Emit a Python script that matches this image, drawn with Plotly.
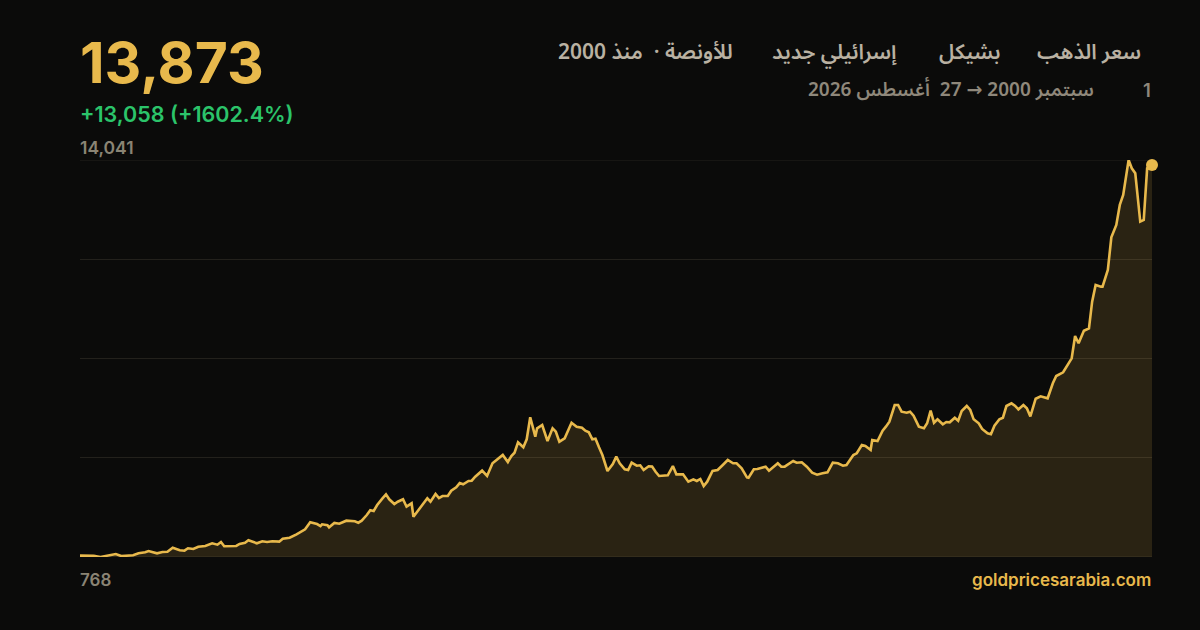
import plotly.graph_objects as go

dates = [
"2000-09-01","2001-01-01","2001-03-01","2001-05-15","2001-07-15","2001-09-01","2001-12-15","2002-02-01","2002-04-01","2002-05-01",
"2002-07-15","2002-09-01","2002-10-15","2002-12-01","2003-02-01","2003-03-15","2003-04-15","2003-06-01","2003-07-15","2003-09-15",
"2003-10-01","2003-11-15","2004-01-01","2004-02-01","2004-03-01","2004-04-15","2004-06-15","2004-07-15","2004-09-01","2004-10-01",
"2004-11-15","2004-12-15","2005-02-01","2005-03-15","2005-05-01","2005-07-01","2005-08-01","2005-10-01","2005-12-01","2006-01-15",
"2006-02-15","2006-04-01","2006-06-01","2006-07-01","2006-07-15","2006-09-01","2006-09-15","2006-11-01","2006-12-15","2007-02-15",
"2007-05-01","2007-06-01","2007-07-01","2007-08-15","2007-09-15","2007-10-15","2007-11-15","2008-01-01","2008-02-01","2008-03-01",
"2008-04-15","2008-05-15","2008-07-01","2008-08-01","2008-09-15","2008-10-01","2008-11-15","2009-01-01","2009-02-01","2009-03-01",
"2009-04-15","2009-05-15","2009-06-15","2009-08-01","2009-09-01","2009-10-15","2009-11-15","2009-12-15","2010-02-01","2010-03-01",
"2010-04-01","2010-06-01","2010-07-15","2010-09-01","2010-10-15","2010-12-01","2011-01-15","2011-02-15","2011-03-15","2011-04-15",
"2011-06-01","2011-07-01","2011-08-01","2011-09-15","2011-10-01","2011-11-15","2012-01-01","2012-02-15","2012-03-15","2012-04-15",
"2012-06-01","2012-08-01","2012-09-15","2012-11-01","2012-12-01","2013-01-01","2013-02-01","2013-03-01","2013-04-01","2013-05-01",
"2013-06-15","2013-08-01","2013-09-01","2013-10-01","2013-11-15","2013-12-15","2014-01-15","2014-03-01","2014-04-01","2014-05-01",
"2014-06-15","2014-07-15","2014-08-15","2014-09-15","2014-12-01","2015-01-15","2015-02-15","2015-04-15","2015-06-01","2015-07-15",
"2015-08-15","2015-09-15","2015-10-15","2015-11-15","2016-01-01","2016-02-15","2016-04-01","2016-05-15","2016-07-01","2016-08-01",
"2016-09-15","2016-11-01","2016-11-15","2017-01-01","2017-02-01","2017-04-15","2017-05-15","2017-08-01","2017-09-01","2017-10-01",
"2017-12-15","2018-01-15","2018-03-01","2018-04-15","2018-06-01","2018-07-15","2018-09-01","2018-10-15","2018-12-01","2019-01-15",
"2019-03-01","2019-04-01","2019-06-01","2019-07-01","2019-08-15","2019-09-15","2019-11-01","2019-11-15","2020-01-01","2020-02-15",
"2020-03-15","2020-04-15","2020-06-01","2020-07-01","2020-08-01","2020-09-15","2020-10-15","2020-11-15","2021-01-01","2021-02-15",
"2021-03-15","2021-04-15","2021-05-15","2021-06-15","2021-08-01","2021-09-01","2021-10-01","2021-11-15","2021-12-15","2022-01-15",
"2022-03-01","2022-04-01","2022-05-01","2022-06-15","2022-07-15","2022-09-01","2022-10-01","2022-11-01","2022-12-15","2023-01-15",
"2023-02-15","2023-04-01","2023-05-01","2023-06-01","2023-07-15","2023-08-15","2023-09-15","2023-11-01","2023-12-15","2024-02-15",
"2024-04-01","2024-05-01","2024-07-01","2024-08-01","2024-09-15","2024-10-15","2024-11-15","2025-01-01","2025-02-15","2025-03-15",
"2025-04-15","2025-06-01","2025-06-15","2025-08-01","2025-09-01","2025-10-15","2025-11-15","2025-12-15","2026-02-01","2026-03-01",
"2026-04-01","2026-05-15","2026-06-15","2026-07-15","2026-08-27",
]

prices = [
815,810,770,810,868,800,825,892,925,968,
892,935,945,1079,992,979,1059,1035,1112,1136,
1159,1226,1180,1270,1126,1136,1136,1203,1246,1326,
1270,1226,1293,1270,1293,1282,1380,1414,1527,1637,
1694,1928,1871,1804,1861,1828,1761,1905,1881,1982,
1961,1915,1982,2172,2329,2306,2506,2730,2864,2697,
2540,2617,2697,2450,2563,2115,2339,2583,2730,2617,
2874,2740,2807,2807,2985,3098,3240,3200,3309,3320,
3453,3654,3476,3901,4034,4180,3944,4145,4255,4603,
4436,4703,5439,4792,5071,5181,4646,5071,4957,4623,
4736,5258,5125,5091,4991,4937,4703,4725,4436,4178,
3643,3877,4122,3901,3700,3676,3921,3820,3834,3676,
3800,3790,3620,3476,3498,3810,3531,3531,3286,3365,
3309,3376,3142,3286,3643,3676,3844,4011,3901,3901,
3733,3432,3420,3700,3710,3787,3654,3901,3787,3787,
3977,3921,3934,3787,3586,3519,3566,3600,3921,3901,
3820,3844,4178,4235,4512,4479,4346,4680,4646,4991,
5125,5292,5850,5850,5627,5593,5627,5493,5125,5071,
5238,5660,5258,5371,5204,5281,5271,5425,5325,5649,
5816,5683,5371,5238,5048,4904,4871,5158,5371,5425,
5816,5906,5827,5704,5850,5738,5470,6060,6140,6074,
6575,6819,6943,7130,7411,8157,7913,8334,8414,9304,
9862,9806,9806,10363,11456,11870,12539,12873,14041,13764,
13596,11981,12037,13764,13873,
]

y_min_label = "768"
y_max_label = "14,041"
y_min, y_max = 768, 14041
headline = "13,873"
change_text = "+13,058 (+1602.4%)"
NB = "\u00a0"
title_parts = ["سعر الذهب", "بشيكل", "إسرائيلي جديد", "للأونصة" + NB + "·" + NB + NB + "منذ 2000"]
date_day = "1"
date_range = "سبتمبر 2000 → 27" + NB + NB + "أغسطس 2026"
site = "goldpricesarabia.com"

BG = "#0b0b0a"
GOLD = "#e8b94c"
GREEN = "#2bc46a"
GRAY = "#8a8474"
HEAD = "#b9b1a2"
SUB = "#8f887b"
GRID = "rgba(255,240,200,0.10)"

fig = go.Figure()
fig.add_trace(go.Scatter(
    x=dates, y=prices, mode="lines",
    line=dict(color=GOLD, width=2.6, shape="linear"),
    fill="tozeroy", fillcolor="rgba(232,185,76,0.14)",
    hoverinfo="skip", showlegend=False,
))
fig.add_trace(go.Scatter(
    x=[dates[-1]], y=[prices[-1]], mode="markers",
    marker=dict(color=GOLD, size=12, line=dict(width=0)),
    hoverinfo="skip", showlegend=False, cliponaxis=False,
))

W, H = 1200, 630
L, R, T, B = 80, 48, 160, 73
pw, ph = W - L - R, H - T - B

def px(x):
    return (x - L) / pw

def py(y):
    return (H - B - y) / ph

latin = "Inter, Roboto, sans-serif"
arab = "Noto Sans Arabic, Noto Naskh Arabic, DejaVu Sans, sans-serif"

ann = []
ann.append(dict(text=headline, x=px(78), y=py(63), xanchor="left", yanchor="middle",
                font=dict(family=latin, size=57, color=GOLD, weight=700)))
ann.append(dict(text=change_text, x=px(78), y=py(114), xanchor="left", yanchor="middle",
                font=dict(family=latin, size=21.5, color=GREEN, weight=600)))
ann.append(dict(text=y_max_label, x=px(78), y=py(148), xanchor="left", yanchor="middle",
                font=dict(family=latin, size=17.5, color=GRAY, weight=600)))
ann.append(dict(text=y_min_label, x=px(78), y=py(580), xanchor="left", yanchor="middle",
                font=dict(family=latin, size=17, color=GRAY, weight=600)))
ann.append(dict(text=site, x=px(1153), y=py(580), xanchor="right", yanchor="middle",
                font=dict(family=latin, size=17, color=GOLD, weight=600)))

rights = [1143, 1002, 899, 735]
for t, r in zip(title_parts, rights):
    ann.append(dict(text="\u202b" + t + "\u202c", x=px(r), y=py(52), xanchor="right", yanchor="middle",
                    font=dict(family=arab, size=21, color=HEAD, weight=600)))
ann.append(dict(text=date_day, x=px(1153), y=py(90), xanchor="right", yanchor="middle",
                font=dict(family=latin, size=18.5, color=SUB, weight=600)))
ann.append(dict(text="\u202b" + date_range + "\u202c", x=px(1096), y=py(90), xanchor="right", yanchor="middle",
                font=dict(family=arab, size=19, color=SUB, weight=600)))
for a in ann:
    a.update(xref="paper", yref="paper", showarrow=False)

step = (y_max - y_min) / 4
grid_vals = [y_min + i * step for i in range(5)]
shapes = [dict(type="line", xref="paper", yref="y", x0=0, x1=1, y0=v, y1=v,
               line=dict(color=GRID, width=1), layer="above")
          for v in (grid_vals[0], grid_vals[-1])]

fig.update_layout(
    width=W, height=H,
    margin=dict(l=L, r=R, t=T, b=B),
    paper_bgcolor=BG, plot_bgcolor=BG,
    annotations=ann, shapes=shapes,
    xaxis=dict(range=[dates[0], dates[-1]], showgrid=False, zeroline=False,
               showticklabels=False, ticks="", showline=False),
    yaxis=dict(range=[y_min, y_max], tickvals=grid_vals[1:-1],
               showgrid=True, gridcolor=GRID, gridwidth=1,
               zeroline=False, showticklabels=False, ticks="", showline=False,
               layer="above traces"),
)

fig.write_html("out.html", config={"displayModeBar": False, "staticPlot": True},
               post_script="document.body.style.margin='0';document.body.style.background='#0b0b0a';")
